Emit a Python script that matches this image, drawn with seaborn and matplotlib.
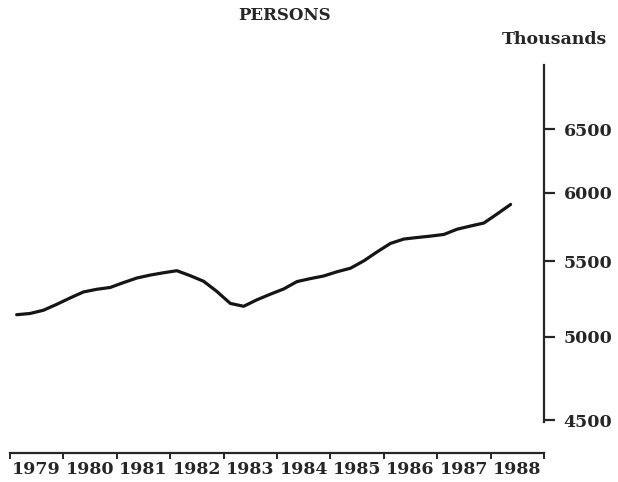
import numpy as np
import pandas as pd
import matplotlib
matplotlib.use("Agg")
import matplotlib.pyplot as plt
import matplotlib.ticker as mticker
import seaborn as sns

# Quarterly series, 1979Q1 .. 1988Q2 (thousands of persons)
years = list(range(1979, 1989))
quarter_pos = [1979.125 + 0.25 * k for k in range(38)]
persons = [5142, 5150, 5171, 5210, 5252, 5292, 5310, 5322,
           5355, 5386, 5406, 5422, 5436, 5402, 5364, 5295,
           5216, 5197, 5240, 5277, 5312, 5362, 5382, 5400,
           5429, 5453, 5504, 5567, 5627, 5658, 5669, 5679,
           5691, 5729, 5752, 5774, 5841, 5911]
ytick_vals = [4500, 5000, 5500, 6000, 6500]
year_labels = [str(y) for y in years]

df = pd.DataFrame({"t": quarter_pos, "v": persons})

sns.set_style("white")
plt.rcParams["font.family"] = ["DejaVu Serif", "DejaVu Sans"]

fig = plt.figure(figsize=(6.18, 4.82), dpi=100)
ax = fig.add_axes([10 / 618, 1 - 422 / 482, (544 - 10) / 618, (422 - 65) / 482])

sns.lineplot(data=df, x="t", y="v", ax=ax, color="#151515", linewidth=2.3,
             solid_joinstyle="round", solid_capstyle="round")

ax.set_yscale("log")
ax.set_xlim(1979, 1989)
ax.set_ylim(4490, 7050)

for s in ["top", "left"]:
    ax.spines[s].set_visible(False)
ax.spines["right"].set_linewidth(1.6)
ax.spines["bottom"].set_linewidth(1.6)
ax.spines["bottom"].set_position(("outward", 22))
ax.spines["bottom"].set_bounds(1979, 1989)

ax.yaxis.tick_right()
ax.set_yticks(ytick_vals)
ax.yaxis.set_minor_locator(mticker.NullLocator())
ax.set_yticklabels([str(v) for v in ytick_vals])
ax.tick_params(axis="y", which="major", direction="out", length=8, width=1.6,
               pad=6, labelsize=12.5, right=True, left=False)
for lbl in ax.get_yticklabels():
    lbl.set_fontweight("bold")

ax.set_xticks(years + [1989])
ax.set_xticklabels([])
ax.set_xticks([y + 0.5 for y in years], minor=True)
ax.set_xticklabels(year_labels, minor=True)
ax.tick_params(axis="x", which="major", direction="out", length=4, width=1.4,
               bottom=True)
ax.tick_params(axis="x", which="minor", length=0, pad=6, labelsize=12.5,
               bottom=True, labelbottom=True)
for lbl in ax.get_xticklabels(minor=True):
    lbl.set_fontweight("bold")

ax.set_xlabel("")
ax.set_ylabel("")
ax.grid(False)

fig.text(285 / 618, 1 - 16 / 482, "PERSONS", ha="center", va="center",
         fontsize=12, fontweight="bold")
fig.text(607 / 618, 1 - 40 / 482, "Thousands", ha="right", va="center",
         fontsize=12.5, fontweight="bold")

fig.savefig("out.png", dpi=100)
